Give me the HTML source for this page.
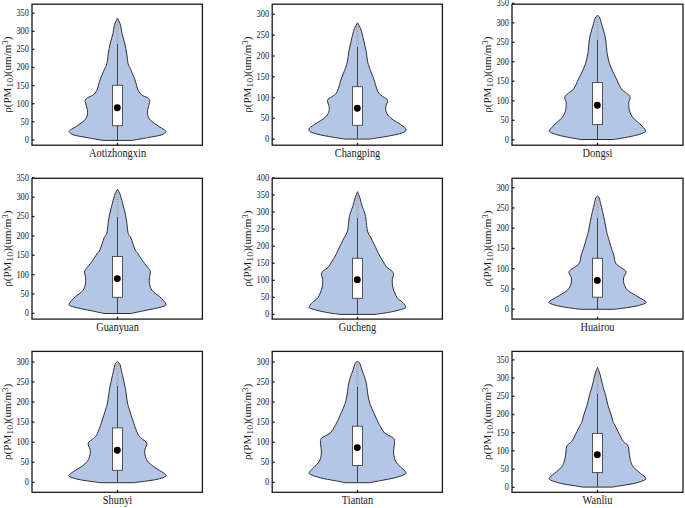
<!DOCTYPE html><html><head><meta charset="utf-8"><style>html,body{margin:0;padding:0;background:#fff;}body{width:685px;height:508px;overflow:hidden;font-family:"Liberation Serif",serif;}svg{display:block;}</style></head><body><svg width="685" height="508" viewBox="0 0 685 508" font-family="Liberation Serif, serif" fill="#1a1a1a"><g><path d="M132.3,140.4C134.82,139.95 142.58,138.6 147.4,137.7C152.22,136.8 158.2,135.92 161.2,135C164.2,134.08 164.82,133.02 165.4,132.2C165.98,131.38 166.08,131.25 164.7,130.1C163.32,128.95 159.63,127.13 157.1,125.3C154.57,123.47 151.12,121.28 149.5,119.1C147.88,116.92 147.52,114.5 147.4,112.2C147.28,109.9 148.4,107.25 148.8,105.3C149.2,103.35 150.03,101.77 149.8,100.5C149.57,99.23 148.72,98.62 147.4,97.7C146.08,96.78 143.45,96.25 141.9,95C140.35,93.75 139.25,92.7 138.1,90.2C136.95,87.7 136.25,83.48 135,80C133.75,76.52 131.75,72.02 130.6,69.3C129.45,66.58 128.73,66.23 128.1,63.7C127.47,61.17 127.37,57.53 126.8,54.1C126.23,50.67 125.51,46.55 124.7,43.1C123.89,39.65 122.63,36.38 121.95,33.4C121.27,30.42 121.34,27.77 120.6,25.2C119.86,22.63 118.02,19.2 117.5,18C116.98,19.2 115.14,22.63 114.4,25.2C113.66,27.77 113.73,30.42 113.05,33.4C112.37,36.38 111.11,39.65 110.3,43.1C109.49,46.55 108.77,50.67 108.2,54.1C107.63,57.53 107.53,61.17 106.9,63.7C106.27,66.23 105.55,66.58 104.4,69.3C103.25,72.02 101.25,76.52 100,80C98.75,83.48 98.05,87.7 96.9,90.2C95.75,92.7 94.65,93.75 93.1,95C91.55,96.25 88.92,96.78 87.6,97.7C86.28,98.62 85.43,99.23 85.2,100.5C84.97,101.77 85.8,103.35 86.2,105.3C86.6,107.25 87.72,109.9 87.6,112.2C87.48,114.5 87.12,116.92 85.5,119.1C83.88,121.28 80.43,123.47 77.9,125.3C75.37,127.13 71.68,128.95 70.3,130.1C68.92,131.25 69.02,131.38 69.6,132.2C70.18,133.02 70.8,134.08 73.8,135C76.8,135.92 82.78,136.8 87.6,137.7C92.42,138.6 100.18,139.95 102.7,140.4Z" fill="#b4c6e7" stroke="#2e2e2e" stroke-width="1.0" stroke-linejoin="round"/><line x1="117.5" y1="140.4" x2="117.5" y2="44" stroke="#333333" stroke-width="0.9"/><line x1="117.5" y1="44" x2="117.5" y2="20" stroke="#909090" stroke-width="1.5"/><line x1="117.5" y1="44" x2="117.5" y2="20" stroke="#f4f4f4" stroke-width="0.7" stroke-dasharray="1.3 0.9"/><rect x="112.5" y="85.3" width="10" height="40.4" fill="#fff" stroke="#444444" stroke-width="0.9"/><circle cx="117.3" cy="107.7" r="3.45" fill="#000"/><rect x="32" y="4.2" width="170.4" height="141" fill="none" stroke="#1a1a1a" stroke-width="1.3"/><line x1="32" y1="139.9" x2="34.4" y2="139.9" stroke="#1a1a1a" stroke-width="1.3"/><text transform="translate(29,142.8) scale(1,1.12)" text-anchor="end" font-size="8.4">0</text><line x1="32" y1="121.8" x2="34.4" y2="121.8" stroke="#1a1a1a" stroke-width="1.3"/><text transform="translate(29,124.7) scale(1,1.12)" text-anchor="end" font-size="8.4">50</text><line x1="32" y1="103.7" x2="34.4" y2="103.7" stroke="#1a1a1a" stroke-width="1.3"/><text transform="translate(29,106.6) scale(1,1.12)" text-anchor="end" font-size="8.4">100</text><line x1="32" y1="85.6" x2="34.4" y2="85.6" stroke="#1a1a1a" stroke-width="1.3"/><text transform="translate(29,88.5) scale(1,1.12)" text-anchor="end" font-size="8.4">150</text><line x1="32" y1="67.5" x2="34.4" y2="67.5" stroke="#1a1a1a" stroke-width="1.3"/><text transform="translate(29,70.4) scale(1,1.12)" text-anchor="end" font-size="8.4">200</text><line x1="32" y1="49.4" x2="34.4" y2="49.4" stroke="#1a1a1a" stroke-width="1.3"/><text transform="translate(29,52.3) scale(1,1.12)" text-anchor="end" font-size="8.4">250</text><line x1="32" y1="31.3" x2="34.4" y2="31.3" stroke="#1a1a1a" stroke-width="1.3"/><text transform="translate(29,34.2) scale(1,1.12)" text-anchor="end" font-size="8.4">300</text><line x1="32" y1="13.2" x2="34.4" y2="13.2" stroke="#1a1a1a" stroke-width="1.3"/><text transform="translate(29,16.1) scale(1,1.12)" text-anchor="end" font-size="8.4">350</text><line x1="117.5" y1="145.2" x2="117.5" y2="142.8" stroke="#1a1a1a" stroke-width="1.3"/><text transform="translate(117.5,156.9) scale(1,1.12)" text-anchor="middle" font-size="10.4">Aotizhongxin</text><text transform="translate(10.7,74.7) rotate(-90) scale(1.16,1)" text-anchor="middle" font-size="9.5">&#961;(PM<tspan font-size="8.6" dy="2.3">10</tspan><tspan dy="-2.3">)(um/m</tspan><tspan font-size="7.6" dy="-2.9">3</tspan><tspan dy="2.9">)</tspan></text></g><g><path d="M369.5,139.1C371.8,138.75 378.7,137.8 383.3,137C387.9,136.2 393.47,135.22 397.1,134.3C400.73,133.38 403.72,132.53 405.1,131.5C406.48,130.47 406.5,129.48 405.4,128.1C404.3,126.72 401.03,124.93 398.5,123.2C395.97,121.47 392.23,119.53 390.2,117.7C388.17,115.87 387.03,114.03 386.3,112.2C385.57,110.37 385.62,108.42 385.8,106.7C385.98,104.98 387.23,103.17 387.4,101.9C387.57,100.63 387.72,100.1 386.8,99.1C385.88,98.1 383.4,97.17 381.9,95.9C380.4,94.63 379.17,94.33 377.8,91.5C376.43,88.67 375.08,82.83 373.7,78.9C372.32,74.97 370.53,70.88 369.5,67.9C368.47,64.92 368.07,63.77 367.5,61C366.93,58.23 366.68,54.52 366.1,51.3C365.52,48.08 364.65,44.57 364,41.7C363.35,38.83 362.77,36.28 362.2,34.1C361.63,31.92 361.38,30.48 360.6,28.6C359.82,26.72 358.02,23.77 357.5,22.8C356.98,23.77 355.18,26.72 354.4,28.6C353.62,30.48 353.37,31.92 352.8,34.1C352.23,36.28 351.65,38.83 351,41.7C350.35,44.57 349.48,48.08 348.9,51.3C348.32,54.52 348.07,58.23 347.5,61C346.93,63.77 346.53,64.92 345.5,67.9C344.47,70.88 342.68,74.97 341.3,78.9C339.92,82.83 338.57,88.67 337.2,91.5C335.83,94.33 334.6,94.63 333.1,95.9C331.6,97.17 329.12,98.1 328.2,99.1C327.28,100.1 327.43,100.63 327.6,101.9C327.77,103.17 329.02,104.98 329.2,106.7C329.38,108.42 329.43,110.37 328.7,112.2C327.97,114.03 326.83,115.87 324.8,117.7C322.77,119.53 319.03,121.47 316.5,123.2C313.97,124.93 310.7,126.72 309.6,128.1C308.5,129.48 308.52,130.47 309.9,131.5C311.28,132.53 314.27,133.38 317.9,134.3C321.53,135.22 327.1,136.2 331.7,137C336.3,137.8 343.2,138.75 345.5,139.1Z" fill="#b4c6e7" stroke="#2e2e2e" stroke-width="1.0" stroke-linejoin="round"/><line x1="357.5" y1="139.1" x2="357.5" y2="46.5" stroke="#333333" stroke-width="0.9"/><line x1="357.5" y1="46.5" x2="357.5" y2="24.8" stroke="#909090" stroke-width="1.5"/><line x1="357.5" y1="46.5" x2="357.5" y2="24.8" stroke="#f4f4f4" stroke-width="0.7" stroke-dasharray="1.3 0.9"/><rect x="352.5" y="86.7" width="10" height="38.6" fill="#fff" stroke="#444444" stroke-width="0.9"/><circle cx="357.3" cy="108.3" r="3.45" fill="#000"/><rect x="272.2" y="4.2" width="170.2" height="141" fill="none" stroke="#1a1a1a" stroke-width="1.3"/><line x1="272.2" y1="139.2" x2="274.6" y2="139.2" stroke="#1a1a1a" stroke-width="1.3"/><text transform="translate(269.2,142.1) scale(1,1.12)" text-anchor="end" font-size="8.4">0</text><line x1="272.2" y1="118.4" x2="274.6" y2="118.4" stroke="#1a1a1a" stroke-width="1.3"/><text transform="translate(269.2,121.3) scale(1,1.12)" text-anchor="end" font-size="8.4">50</text><line x1="272.2" y1="97.6" x2="274.6" y2="97.6" stroke="#1a1a1a" stroke-width="1.3"/><text transform="translate(269.2,100.5) scale(1,1.12)" text-anchor="end" font-size="8.4">100</text><line x1="272.2" y1="76.8" x2="274.6" y2="76.8" stroke="#1a1a1a" stroke-width="1.3"/><text transform="translate(269.2,79.7) scale(1,1.12)" text-anchor="end" font-size="8.4">150</text><line x1="272.2" y1="56" x2="274.6" y2="56" stroke="#1a1a1a" stroke-width="1.3"/><text transform="translate(269.2,58.9) scale(1,1.12)" text-anchor="end" font-size="8.4">200</text><line x1="272.2" y1="35.2" x2="274.6" y2="35.2" stroke="#1a1a1a" stroke-width="1.3"/><text transform="translate(269.2,38.1) scale(1,1.12)" text-anchor="end" font-size="8.4">250</text><line x1="272.2" y1="14.4" x2="274.6" y2="14.4" stroke="#1a1a1a" stroke-width="1.3"/><text transform="translate(269.2,17.3) scale(1,1.12)" text-anchor="end" font-size="8.4">300</text><line x1="357.5" y1="145.2" x2="357.5" y2="142.8" stroke="#1a1a1a" stroke-width="1.3"/><text transform="translate(357.5,156.9) scale(1,1.12)" text-anchor="middle" font-size="10.4">Changping</text><text transform="translate(250.7,74.7) rotate(-90) scale(1.16,1)" text-anchor="middle" font-size="9.5">&#961;(PM<tspan font-size="8.6" dy="2.3">10</tspan><tspan dy="-2.3">)(um/m</tspan><tspan font-size="7.6" dy="-2.9">3</tspan><tspan dy="2.9">)</tspan></text></g><g><path d="M613.7,139.5C615.53,139.2 620.8,138.45 624.7,137.7C628.6,136.95 633.77,135.92 637.1,135C640.43,134.08 643.32,133.02 644.7,132.2C646.08,131.38 646.22,131.48 645.4,130.1C644.58,128.72 641.87,125.97 639.8,123.9C637.73,121.83 634.72,119.88 633,117.7C631.28,115.52 630.2,113.32 629.5,110.8C628.8,108.28 628.68,104.67 628.8,102.6C628.92,100.53 630.08,99.55 630.2,98.4C630.32,97.25 630.3,96.73 629.5,95.7C628.7,94.67 626.78,93.35 625.4,92.2C624.02,91.05 622.7,91.02 621.2,88.8C619.7,86.58 617.77,81.7 616.4,78.9C615.03,76.1 614.15,74.53 613,72C611.85,69.47 610.5,66.92 609.5,63.7C608.5,60.48 607.57,56.13 607,52.7C606.43,49.27 606.48,46.08 606.1,43.1C605.72,40.12 605.4,37.78 604.7,34.8C604,31.82 602.7,27.95 601.9,25.2C601.1,22.45 600.63,19.92 599.9,18.3C599.17,16.68 598.3,15.5 597.5,15.5C596.7,15.5 595.83,16.68 595.1,18.3C594.37,19.92 593.9,22.45 593.1,25.2C592.3,27.95 591,31.82 590.3,34.8C589.6,37.78 589.28,40.12 588.9,43.1C588.52,46.08 588.57,49.27 588,52.7C587.43,56.13 586.5,60.48 585.5,63.7C584.5,66.92 583.15,69.47 582,72C580.85,74.53 579.97,76.1 578.6,78.9C577.23,81.7 575.3,86.58 573.8,88.8C572.3,91.02 570.98,91.05 569.6,92.2C568.22,93.35 566.3,94.67 565.5,95.7C564.7,96.73 564.68,97.25 564.8,98.4C564.92,99.55 566.08,100.53 566.2,102.6C566.32,104.67 566.2,108.28 565.5,110.8C564.8,113.32 563.72,115.52 562,117.7C560.28,119.88 557.27,121.83 555.2,123.9C553.13,125.97 550.42,128.72 549.6,130.1C548.78,131.48 548.92,131.38 550.3,132.2C551.68,133.02 554.57,134.08 557.9,135C561.23,135.92 566.4,136.95 570.3,137.7C574.2,138.45 579.47,139.2 581.3,139.5Z" fill="#b4c6e7" stroke="#2e2e2e" stroke-width="1.0" stroke-linejoin="round"/><line x1="597.5" y1="139.5" x2="597.5" y2="39.6" stroke="#333333" stroke-width="0.9"/><line x1="597.5" y1="39.6" x2="597.5" y2="17.5" stroke="#909090" stroke-width="1.5"/><line x1="597.5" y1="39.6" x2="597.5" y2="17.5" stroke="#f4f4f4" stroke-width="0.7" stroke-dasharray="1.3 0.9"/><rect x="592.5" y="82.6" width="10" height="42" fill="#fff" stroke="#444444" stroke-width="0.9"/><circle cx="597.3" cy="105.3" r="3.45" fill="#000"/><rect x="512" y="4.2" width="171" height="141" fill="none" stroke="#1a1a1a" stroke-width="1.3"/><line x1="512" y1="139.8" x2="514.4" y2="139.8" stroke="#1a1a1a" stroke-width="1.3"/><text transform="translate(509,142.7) scale(1,1.12)" text-anchor="end" font-size="8.4">0</text><line x1="512" y1="120.3" x2="514.4" y2="120.3" stroke="#1a1a1a" stroke-width="1.3"/><text transform="translate(509,123.2) scale(1,1.12)" text-anchor="end" font-size="8.4">50</text><line x1="512" y1="100.8" x2="514.4" y2="100.8" stroke="#1a1a1a" stroke-width="1.3"/><text transform="translate(509,103.7) scale(1,1.12)" text-anchor="end" font-size="8.4">100</text><line x1="512" y1="81.3" x2="514.4" y2="81.3" stroke="#1a1a1a" stroke-width="1.3"/><text transform="translate(509,84.2) scale(1,1.12)" text-anchor="end" font-size="8.4">150</text><line x1="512" y1="61.8" x2="514.4" y2="61.8" stroke="#1a1a1a" stroke-width="1.3"/><text transform="translate(509,64.7) scale(1,1.12)" text-anchor="end" font-size="8.4">200</text><line x1="512" y1="42.3" x2="514.4" y2="42.3" stroke="#1a1a1a" stroke-width="1.3"/><text transform="translate(509,45.2) scale(1,1.12)" text-anchor="end" font-size="8.4">250</text><line x1="512" y1="22.8" x2="514.4" y2="22.8" stroke="#1a1a1a" stroke-width="1.3"/><text transform="translate(509,25.7) scale(1,1.12)" text-anchor="end" font-size="8.4">300</text><line x1="512" y1="3.3" x2="514.4" y2="3.3" stroke="#1a1a1a" stroke-width="1.3"/><text transform="translate(509,6.2) scale(1,1.12)" text-anchor="end" font-size="8.4">350</text><line x1="597.5" y1="145.2" x2="597.5" y2="142.8" stroke="#1a1a1a" stroke-width="1.3"/><text transform="translate(597.5,156.9) scale(1,1.12)" text-anchor="middle" font-size="10.4">Dongsi</text><text transform="translate(490.7,74.7) rotate(-90) scale(1.16,1)" text-anchor="middle" font-size="9.5">&#961;(PM<tspan font-size="8.6" dy="2.3">10</tspan><tspan dy="-2.3">)(um/m</tspan><tspan font-size="7.6" dy="-2.9">3</tspan><tspan dy="2.9">)</tspan></text></g><g><path d="M130.9,313.5C132.52,313.15 136.7,312.22 140.6,311.4C144.5,310.58 150.28,309.52 154.3,308.6C158.32,307.68 162.85,306.82 164.7,305.9C166.55,304.98 166.22,304.6 165.4,303.1C164.58,301.6 161.98,298.97 159.8,296.9C157.62,294.83 154.02,292.88 152.3,290.7C150.58,288.52 149.97,285.98 149.5,283.8C149.03,281.62 149.33,279.55 149.5,277.6C149.67,275.65 150.62,273.58 150.5,272.1C150.38,270.62 150,270.42 148.8,268.7C147.6,266.98 145.13,264.33 143.3,261.8C141.47,259.27 139.18,255.53 137.8,253.5C136.42,251.47 136.15,252.2 135,249.6C133.85,247 132.05,240.65 130.9,237.9C129.75,235.15 128.78,235.63 128.1,233.1C127.42,230.57 127.25,225.82 126.8,222.7C126.35,219.58 126.1,217.62 125.4,214.4C124.7,211.18 123.52,206.83 122.6,203.4C121.68,199.97 120.75,196.13 119.9,193.8C119.05,191.47 117.9,190.13 117.5,189.4C117.1,190.13 115.95,191.47 115.1,193.8C114.25,196.13 113.32,199.97 112.4,203.4C111.48,206.83 110.3,211.18 109.6,214.4C108.9,217.62 108.65,219.58 108.2,222.7C107.75,225.82 107.58,230.57 106.9,233.1C106.22,235.63 105.25,235.15 104.1,237.9C102.95,240.65 101.15,247 100,249.6C98.85,252.2 98.58,251.47 97.2,253.5C95.82,255.53 93.53,259.27 91.7,261.8C89.87,264.33 87.4,266.98 86.2,268.7C85,270.42 84.62,270.62 84.5,272.1C84.38,273.58 85.33,275.65 85.5,277.6C85.67,279.55 85.97,281.62 85.5,283.8C85.03,285.98 84.42,288.52 82.7,290.7C80.98,292.88 77.38,294.83 75.2,296.9C73.02,298.97 70.42,301.6 69.6,303.1C68.78,304.6 68.45,304.98 70.3,305.9C72.15,306.82 76.68,307.68 80.7,308.6C84.72,309.52 90.5,310.58 94.4,311.4C98.3,312.22 102.48,313.15 104.1,313.5Z" fill="#b4c6e7" stroke="#2e2e2e" stroke-width="1.0" stroke-linejoin="round"/><line x1="117.5" y1="313.5" x2="117.5" y2="216.5" stroke="#333333" stroke-width="0.9"/><line x1="117.5" y1="216.5" x2="117.5" y2="191.4" stroke="#909090" stroke-width="1.5"/><line x1="117.5" y1="216.5" x2="117.5" y2="191.4" stroke="#f4f4f4" stroke-width="0.7" stroke-dasharray="1.3 0.9"/><rect x="112.5" y="256.5" width="10" height="40.8" fill="#fff" stroke="#444444" stroke-width="0.9"/><circle cx="117.3" cy="278.6" r="3.45" fill="#000"/><rect x="32" y="178.3" width="170.4" height="140.8" fill="none" stroke="#1a1a1a" stroke-width="1.3"/><line x1="32" y1="313.4" x2="34.4" y2="313.4" stroke="#1a1a1a" stroke-width="1.3"/><text transform="translate(29,316.3) scale(1,1.12)" text-anchor="end" font-size="8.4">0</text><line x1="32" y1="294.03" x2="34.4" y2="294.03" stroke="#1a1a1a" stroke-width="1.3"/><text transform="translate(29,296.93) scale(1,1.12)" text-anchor="end" font-size="8.4">50</text><line x1="32" y1="274.66" x2="34.4" y2="274.66" stroke="#1a1a1a" stroke-width="1.3"/><text transform="translate(29,277.56) scale(1,1.12)" text-anchor="end" font-size="8.4">100</text><line x1="32" y1="255.29" x2="34.4" y2="255.29" stroke="#1a1a1a" stroke-width="1.3"/><text transform="translate(29,258.19) scale(1,1.12)" text-anchor="end" font-size="8.4">150</text><line x1="32" y1="235.92" x2="34.4" y2="235.92" stroke="#1a1a1a" stroke-width="1.3"/><text transform="translate(29,238.82) scale(1,1.12)" text-anchor="end" font-size="8.4">200</text><line x1="32" y1="216.55" x2="34.4" y2="216.55" stroke="#1a1a1a" stroke-width="1.3"/><text transform="translate(29,219.45) scale(1,1.12)" text-anchor="end" font-size="8.4">250</text><line x1="32" y1="197.18" x2="34.4" y2="197.18" stroke="#1a1a1a" stroke-width="1.3"/><text transform="translate(29,200.08) scale(1,1.12)" text-anchor="end" font-size="8.4">300</text><line x1="32" y1="177.81" x2="34.4" y2="177.81" stroke="#1a1a1a" stroke-width="1.3"/><text transform="translate(29,180.71) scale(1,1.12)" text-anchor="end" font-size="8.4">350</text><line x1="117.5" y1="319.1" x2="117.5" y2="316.7" stroke="#1a1a1a" stroke-width="1.3"/><text transform="translate(117.5,330.8) scale(1,1.12)" text-anchor="middle" font-size="10.4">Guanyuan</text><text transform="translate(10.7,248.7) rotate(-90) scale(1.16,1)" text-anchor="middle" font-size="9.5">&#961;(PM<tspan font-size="8.6" dy="2.3">10</tspan><tspan dy="-2.3">)(um/m</tspan><tspan font-size="7.6" dy="-2.9">3</tspan><tspan dy="2.9">)</tspan></text></g><g><path d="M375,314.4C377.53,314.02 385.37,313.07 390.2,312.1C395.03,311.13 401.43,309.52 404,308.6C406.57,307.68 405.83,307.63 405.6,306.6C405.37,305.57 404.02,303.9 402.6,302.4C401.18,300.9 398.7,300 397.1,297.6C395.5,295.2 393.8,290.98 393,288C392.2,285.02 392.2,282 392.3,279.7C392.4,277.4 393.72,275.7 393.6,274.2C393.48,272.7 392.73,271.85 391.6,270.7C390.47,269.55 388.18,268.78 386.8,267.3C385.42,265.82 384.57,263.87 383.3,261.8C382.03,259.73 380.35,257.05 379.2,254.9C378.05,252.75 377.78,251.73 376.4,248.9C375.02,246.07 372.38,240.88 370.9,237.9C369.42,234.92 368.3,233.98 367.5,231C366.7,228.02 366.57,222.98 366.1,220C365.63,217.02 365.4,215.52 364.7,213.1C364,210.68 362.7,208.03 361.9,205.5C361.1,202.97 360.63,200.2 359.9,197.9C359.17,195.6 357.9,192.73 357.5,191.7C357.1,192.73 355.83,195.6 355.1,197.9C354.37,200.2 353.9,202.97 353.1,205.5C352.3,208.03 351,210.68 350.3,213.1C349.6,215.52 349.37,217.02 348.9,220C348.43,222.98 348.3,228.02 347.5,231C346.7,233.98 345.58,234.92 344.1,237.9C342.62,240.88 339.98,246.07 338.6,248.9C337.22,251.73 336.95,252.75 335.8,254.9C334.65,257.05 332.97,259.73 331.7,261.8C330.43,263.87 329.58,265.82 328.2,267.3C326.82,268.78 324.53,269.55 323.4,270.7C322.27,271.85 321.52,272.7 321.4,274.2C321.28,275.7 322.6,277.4 322.7,279.7C322.8,282 322.8,285.02 322,288C321.2,290.98 319.5,295.2 317.9,297.6C316.3,300 313.82,300.9 312.4,302.4C310.98,303.9 309.63,305.57 309.4,306.6C309.17,307.63 308.43,307.68 311,308.6C313.57,309.52 319.97,311.13 324.8,312.1C329.63,313.07 337.47,314.02 340,314.4Z" fill="#b4c6e7" stroke="#2e2e2e" stroke-width="1.0" stroke-linejoin="round"/><line x1="357.5" y1="314.4" x2="357.5" y2="217.9" stroke="#333333" stroke-width="0.9"/><line x1="357.5" y1="217.9" x2="357.5" y2="193.7" stroke="#909090" stroke-width="1.5"/><line x1="357.5" y1="217.9" x2="357.5" y2="193.7" stroke="#f4f4f4" stroke-width="0.7" stroke-dasharray="1.3 0.9"/><rect x="352.5" y="258.3" width="10" height="40" fill="#fff" stroke="#444444" stroke-width="0.9"/><circle cx="357.3" cy="279.7" r="3.45" fill="#000"/><rect x="272.2" y="178.3" width="170.2" height="140.8" fill="none" stroke="#1a1a1a" stroke-width="1.3"/><line x1="272.2" y1="314.5" x2="274.6" y2="314.5" stroke="#1a1a1a" stroke-width="1.3"/><text transform="translate(269.2,317.4) scale(1,1.12)" text-anchor="end" font-size="8.4">0</text><line x1="272.2" y1="297.43" x2="274.6" y2="297.43" stroke="#1a1a1a" stroke-width="1.3"/><text transform="translate(269.2,300.33) scale(1,1.12)" text-anchor="end" font-size="8.4">50</text><line x1="272.2" y1="280.36" x2="274.6" y2="280.36" stroke="#1a1a1a" stroke-width="1.3"/><text transform="translate(269.2,283.26) scale(1,1.12)" text-anchor="end" font-size="8.4">100</text><line x1="272.2" y1="263.29" x2="274.6" y2="263.29" stroke="#1a1a1a" stroke-width="1.3"/><text transform="translate(269.2,266.19) scale(1,1.12)" text-anchor="end" font-size="8.4">150</text><line x1="272.2" y1="246.22" x2="274.6" y2="246.22" stroke="#1a1a1a" stroke-width="1.3"/><text transform="translate(269.2,249.12) scale(1,1.12)" text-anchor="end" font-size="8.4">200</text><line x1="272.2" y1="229.15" x2="274.6" y2="229.15" stroke="#1a1a1a" stroke-width="1.3"/><text transform="translate(269.2,232.05) scale(1,1.12)" text-anchor="end" font-size="8.4">250</text><line x1="272.2" y1="212.08" x2="274.6" y2="212.08" stroke="#1a1a1a" stroke-width="1.3"/><text transform="translate(269.2,214.98) scale(1,1.12)" text-anchor="end" font-size="8.4">300</text><line x1="272.2" y1="195.01" x2="274.6" y2="195.01" stroke="#1a1a1a" stroke-width="1.3"/><text transform="translate(269.2,197.91) scale(1,1.12)" text-anchor="end" font-size="8.4">350</text><line x1="272.2" y1="177.94" x2="274.6" y2="177.94" stroke="#1a1a1a" stroke-width="1.3"/><text transform="translate(269.2,180.84) scale(1,1.12)" text-anchor="end" font-size="8.4">400</text><line x1="357.5" y1="319.1" x2="357.5" y2="316.7" stroke="#1a1a1a" stroke-width="1.3"/><text transform="translate(357.5,330.8) scale(1,1.12)" text-anchor="middle" font-size="10.4">Gucheng</text><text transform="translate(250.7,248.7) rotate(-90) scale(1.16,1)" text-anchor="middle" font-size="9.5">&#961;(PM<tspan font-size="8.6" dy="2.3">10</tspan><tspan dy="-2.3">)(um/m</tspan><tspan font-size="7.6" dy="-2.9">3</tspan><tspan dy="2.9">)</tspan></text></g><g><path d="M613.7,309.3C615.3,309.12 619.4,308.77 623.3,308.2C627.2,307.63 633.42,306.75 637.1,305.9C640.78,305.05 644.07,303.9 645.4,303.1C646.73,302.3 646.72,302.37 645.1,301.1C643.48,299.83 638.65,297.35 635.7,295.5C632.75,293.65 629.35,291.95 627.4,290C625.45,288.05 624.63,285.87 624,283.8C623.37,281.73 623.3,279.32 623.6,277.6C623.9,275.88 625.5,274.65 625.8,273.5C626.1,272.35 626.27,271.73 625.4,270.7C624.53,269.67 622.22,268.55 620.6,267.3C618.98,266.05 616.85,265.27 615.7,263.2C614.55,261.13 614.38,257.28 613.7,254.9C613.02,252.52 612.42,251.5 611.6,248.9C610.78,246.3 609.6,242.05 608.8,239.3C608,236.55 607.48,235.4 606.8,232.4C606.12,229.4 605.4,224.75 604.7,221.3C604,217.85 603.28,214.68 602.6,211.7C601.92,208.72 601.17,205.7 600.6,203.4C600.03,201.1 599.72,199.08 599.2,197.9C598.68,196.72 598.07,196.3 597.5,196.3C596.93,196.3 596.32,196.72 595.8,197.9C595.28,199.08 594.97,201.1 594.4,203.4C593.83,205.7 593.08,208.72 592.4,211.7C591.72,214.68 591,217.85 590.3,221.3C589.6,224.75 588.88,229.4 588.2,232.4C587.52,235.4 587,236.55 586.2,239.3C585.4,242.05 584.22,246.3 583.4,248.9C582.58,251.5 581.98,252.52 581.3,254.9C580.62,257.28 580.45,261.13 579.3,263.2C578.15,265.27 576.02,266.05 574.4,267.3C572.78,268.55 570.47,269.67 569.6,270.7C568.73,271.73 568.9,272.35 569.2,273.5C569.5,274.65 571.1,275.88 571.4,277.6C571.7,279.32 571.63,281.73 571,283.8C570.37,285.87 569.55,288.05 567.6,290C565.65,291.95 562.25,293.65 559.3,295.5C556.35,297.35 551.52,299.83 549.9,301.1C548.28,302.37 548.27,302.3 549.6,303.1C550.93,303.9 554.22,305.05 557.9,305.9C561.58,306.75 567.8,307.63 571.7,308.2C575.6,308.77 579.7,309.12 581.3,309.3Z" fill="#b4c6e7" stroke="#2e2e2e" stroke-width="1.0" stroke-linejoin="round"/><line x1="597.5" y1="309.3" x2="597.5" y2="217.9" stroke="#333333" stroke-width="0.9"/><line x1="597.5" y1="217.9" x2="597.5" y2="198.3" stroke="#909090" stroke-width="1.5"/><line x1="597.5" y1="217.9" x2="597.5" y2="198.3" stroke="#f4f4f4" stroke-width="0.7" stroke-dasharray="1.3 0.9"/><rect x="592.5" y="258.3" width="10" height="38.9" fill="#fff" stroke="#444444" stroke-width="0.9"/><circle cx="597.3" cy="280.4" r="3.45" fill="#000"/><rect x="512" y="178.3" width="171" height="140.8" fill="none" stroke="#1a1a1a" stroke-width="1.3"/><line x1="512" y1="309.2" x2="514.4" y2="309.2" stroke="#1a1a1a" stroke-width="1.3"/><text transform="translate(509,312.1) scale(1,1.12)" text-anchor="end" font-size="8.4">0</text><line x1="512" y1="288.95" x2="514.4" y2="288.95" stroke="#1a1a1a" stroke-width="1.3"/><text transform="translate(509,291.85) scale(1,1.12)" text-anchor="end" font-size="8.4">50</text><line x1="512" y1="268.7" x2="514.4" y2="268.7" stroke="#1a1a1a" stroke-width="1.3"/><text transform="translate(509,271.6) scale(1,1.12)" text-anchor="end" font-size="8.4">100</text><line x1="512" y1="248.45" x2="514.4" y2="248.45" stroke="#1a1a1a" stroke-width="1.3"/><text transform="translate(509,251.35) scale(1,1.12)" text-anchor="end" font-size="8.4">150</text><line x1="512" y1="228.2" x2="514.4" y2="228.2" stroke="#1a1a1a" stroke-width="1.3"/><text transform="translate(509,231.1) scale(1,1.12)" text-anchor="end" font-size="8.4">200</text><line x1="512" y1="207.95" x2="514.4" y2="207.95" stroke="#1a1a1a" stroke-width="1.3"/><text transform="translate(509,210.85) scale(1,1.12)" text-anchor="end" font-size="8.4">250</text><line x1="512" y1="187.7" x2="514.4" y2="187.7" stroke="#1a1a1a" stroke-width="1.3"/><text transform="translate(509,190.6) scale(1,1.12)" text-anchor="end" font-size="8.4">300</text><line x1="597.5" y1="319.1" x2="597.5" y2="316.7" stroke="#1a1a1a" stroke-width="1.3"/><text transform="translate(597.5,330.8) scale(1,1.12)" text-anchor="middle" font-size="10.4">Huairou</text><text transform="translate(490.7,248.7) rotate(-90) scale(1.16,1)" text-anchor="middle" font-size="9.5">&#961;(PM<tspan font-size="8.6" dy="2.3">10</tspan><tspan dy="-2.3">)(um/m</tspan><tspan font-size="7.6" dy="-2.9">3</tspan><tspan dy="2.9">)</tspan></text></g><g><path d="M133.7,482.7C135.53,482.47 140.8,481.87 144.7,481.3C148.6,480.73 153.65,480.1 157.1,479.3C160.55,478.5 164.13,477.43 165.4,476.5C166.67,475.57 166.08,474.97 164.7,473.7C163.32,472.43 159.75,470.73 157.1,468.9C154.45,467.07 150.75,464.77 148.8,462.7C146.85,460.63 146.08,458.57 145.4,456.5C144.72,454.43 144.47,452.25 144.7,450.3C144.93,448.35 146.57,446.18 146.8,444.8C147.03,443.42 146.8,442.92 146.1,442C145.4,441.08 143.87,440.43 142.6,439.3C141.33,438.17 139.77,437.27 138.5,435.2C137.23,433.13 135.92,429.28 135,426.9C134.08,424.52 133.92,423.73 133,420.9C132.08,418.07 130.42,412.88 129.5,409.9C128.58,406.92 128.07,405.77 127.5,403C126.93,400.23 126.57,396.28 126.1,393.3C125.63,390.32 125.4,388.53 124.7,385.1C124,381.67 122.7,376.15 121.9,372.7C121.1,369.25 120.63,366.28 119.9,364.4C119.17,362.52 117.9,361.9 117.5,361.4C117.1,361.9 115.83,362.52 115.1,364.4C114.37,366.28 113.9,369.25 113.1,372.7C112.3,376.15 111,381.67 110.3,385.1C109.6,388.53 109.37,390.32 108.9,393.3C108.43,396.28 108.07,400.23 107.5,403C106.93,405.77 106.42,406.92 105.5,409.9C104.58,412.88 102.92,418.07 102,420.9C101.08,423.73 100.92,424.52 100,426.9C99.08,429.28 97.77,433.13 96.5,435.2C95.23,437.27 93.67,438.17 92.4,439.3C91.13,440.43 89.6,441.08 88.9,442C88.2,442.92 87.97,443.42 88.2,444.8C88.43,446.18 90.07,448.35 90.3,450.3C90.53,452.25 90.28,454.43 89.6,456.5C88.92,458.57 88.15,460.63 86.2,462.7C84.25,464.77 80.55,467.07 77.9,468.9C75.25,470.73 71.68,472.43 70.3,473.7C68.92,474.97 68.33,475.57 69.6,476.5C70.87,477.43 74.45,478.5 77.9,479.3C81.35,480.1 86.4,480.73 90.3,481.3C94.2,481.87 99.47,482.47 101.3,482.7Z" fill="#b4c6e7" stroke="#2e2e2e" stroke-width="1.0" stroke-linejoin="round"/><line x1="117.5" y1="482.7" x2="117.5" y2="385.8" stroke="#333333" stroke-width="0.9"/><line x1="117.5" y1="385.8" x2="117.5" y2="363.4" stroke="#909090" stroke-width="1.5"/><line x1="117.5" y1="385.8" x2="117.5" y2="363.4" stroke="#f4f4f4" stroke-width="0.7" stroke-dasharray="1.3 0.9"/><rect x="112.5" y="427.9" width="10" height="42.4" fill="#fff" stroke="#444444" stroke-width="0.9"/><circle cx="117.3" cy="450.3" r="3.45" fill="#000"/><rect x="32" y="351.4" width="170.4" height="140.9" fill="none" stroke="#1a1a1a" stroke-width="1.3"/><line x1="32" y1="482.4" x2="34.4" y2="482.4" stroke="#1a1a1a" stroke-width="1.3"/><text transform="translate(29,485.3) scale(1,1.12)" text-anchor="end" font-size="8.4">0</text><line x1="32" y1="462.32" x2="34.4" y2="462.32" stroke="#1a1a1a" stroke-width="1.3"/><text transform="translate(29,465.22) scale(1,1.12)" text-anchor="end" font-size="8.4">50</text><line x1="32" y1="442.24" x2="34.4" y2="442.24" stroke="#1a1a1a" stroke-width="1.3"/><text transform="translate(29,445.14) scale(1,1.12)" text-anchor="end" font-size="8.4">100</text><line x1="32" y1="422.16" x2="34.4" y2="422.16" stroke="#1a1a1a" stroke-width="1.3"/><text transform="translate(29,425.06) scale(1,1.12)" text-anchor="end" font-size="8.4">150</text><line x1="32" y1="402.08" x2="34.4" y2="402.08" stroke="#1a1a1a" stroke-width="1.3"/><text transform="translate(29,404.98) scale(1,1.12)" text-anchor="end" font-size="8.4">200</text><line x1="32" y1="382" x2="34.4" y2="382" stroke="#1a1a1a" stroke-width="1.3"/><text transform="translate(29,384.9) scale(1,1.12)" text-anchor="end" font-size="8.4">250</text><line x1="32" y1="361.92" x2="34.4" y2="361.92" stroke="#1a1a1a" stroke-width="1.3"/><text transform="translate(29,364.82) scale(1,1.12)" text-anchor="end" font-size="8.4">300</text><line x1="117.5" y1="492.3" x2="117.5" y2="489.9" stroke="#1a1a1a" stroke-width="1.3"/><text transform="translate(117.5,504) scale(1,1.12)" text-anchor="middle" font-size="10.4">Shunyi</text><text transform="translate(10.7,421.85) rotate(-90) scale(1.16,1)" text-anchor="middle" font-size="9.5">&#961;(PM<tspan font-size="8.6" dy="2.3">10</tspan><tspan dy="-2.3">)(um/m</tspan><tspan font-size="7.6" dy="-2.9">3</tspan><tspan dy="2.9">)</tspan></text></g><g><path d="M369.5,482.7C371.35,482.35 376.47,481.4 380.6,480.6C384.73,479.8 390.28,478.93 394.3,477.9C398.32,476.87 402.85,475.43 404.7,474.4C406.55,473.37 405.98,472.85 405.4,471.7C404.82,470.55 402.82,469.23 401.2,467.5C399.58,465.77 396.97,463.7 395.7,461.3C394.43,458.9 393.83,455.85 393.6,453.1C393.37,450.35 394.18,447.1 394.3,444.8C394.42,442.5 394.87,440.68 394.3,439.3C393.73,437.92 392.5,437.53 390.9,436.5C389.3,435.47 386.42,434.7 384.7,433.1C382.98,431.5 381.75,428.82 380.6,426.9C379.45,424.98 378.95,423.98 377.8,421.6C376.65,419.22 374.97,415.47 373.7,412.6C372.43,409.73 371.13,407.15 370.2,404.4C369.27,401.65 368.67,399.1 368.1,396.1C367.53,393.1 367.25,389.15 366.8,386.4C366.35,383.65 366.22,382.35 365.4,379.6C364.58,376.85 362.82,372.55 361.9,369.9C360.98,367.25 360.63,365.12 359.9,363.7C359.17,362.28 358.3,361.4 357.5,361.4C356.7,361.4 355.83,362.28 355.1,363.7C354.37,365.12 354.02,367.25 353.1,369.9C352.18,372.55 350.42,376.85 349.6,379.6C348.78,382.35 348.65,383.65 348.2,386.4C347.75,389.15 347.47,393.1 346.9,396.1C346.33,399.1 345.73,401.65 344.8,404.4C343.87,407.15 342.57,409.73 341.3,412.6C340.03,415.47 338.35,419.22 337.2,421.6C336.05,423.98 335.55,424.98 334.4,426.9C333.25,428.82 332.02,431.5 330.3,433.1C328.58,434.7 325.7,435.47 324.1,436.5C322.5,437.53 321.27,437.92 320.7,439.3C320.13,440.68 320.58,442.5 320.7,444.8C320.82,447.1 321.63,450.35 321.4,453.1C321.17,455.85 320.57,458.9 319.3,461.3C318.03,463.7 315.42,465.77 313.8,467.5C312.18,469.23 310.18,470.55 309.6,471.7C309.02,472.85 308.45,473.37 310.3,474.4C312.15,475.43 316.68,476.87 320.7,477.9C324.72,478.93 330.27,479.8 334.4,480.6C338.53,481.4 343.65,482.35 345.5,482.7Z" fill="#b4c6e7" stroke="#2e2e2e" stroke-width="1.0" stroke-linejoin="round"/><line x1="357.5" y1="482.7" x2="357.5" y2="386.4" stroke="#333333" stroke-width="0.9"/><line x1="357.5" y1="386.4" x2="357.5" y2="363.4" stroke="#909090" stroke-width="1.5"/><line x1="357.5" y1="386.4" x2="357.5" y2="363.4" stroke="#f4f4f4" stroke-width="0.7" stroke-dasharray="1.3 0.9"/><rect x="352.5" y="426.2" width="10" height="39.3" fill="#fff" stroke="#444444" stroke-width="0.9"/><circle cx="357.3" cy="447.6" r="3.45" fill="#000"/><rect x="272.2" y="351.4" width="170.2" height="140.9" fill="none" stroke="#1a1a1a" stroke-width="1.3"/><line x1="272.2" y1="482.4" x2="274.6" y2="482.4" stroke="#1a1a1a" stroke-width="1.3"/><text transform="translate(269.2,485.3) scale(1,1.12)" text-anchor="end" font-size="8.4">0</text><line x1="272.2" y1="462.32" x2="274.6" y2="462.32" stroke="#1a1a1a" stroke-width="1.3"/><text transform="translate(269.2,465.22) scale(1,1.12)" text-anchor="end" font-size="8.4">50</text><line x1="272.2" y1="442.24" x2="274.6" y2="442.24" stroke="#1a1a1a" stroke-width="1.3"/><text transform="translate(269.2,445.14) scale(1,1.12)" text-anchor="end" font-size="8.4">100</text><line x1="272.2" y1="422.16" x2="274.6" y2="422.16" stroke="#1a1a1a" stroke-width="1.3"/><text transform="translate(269.2,425.06) scale(1,1.12)" text-anchor="end" font-size="8.4">150</text><line x1="272.2" y1="402.08" x2="274.6" y2="402.08" stroke="#1a1a1a" stroke-width="1.3"/><text transform="translate(269.2,404.98) scale(1,1.12)" text-anchor="end" font-size="8.4">200</text><line x1="272.2" y1="382" x2="274.6" y2="382" stroke="#1a1a1a" stroke-width="1.3"/><text transform="translate(269.2,384.9) scale(1,1.12)" text-anchor="end" font-size="8.4">250</text><line x1="272.2" y1="361.92" x2="274.6" y2="361.92" stroke="#1a1a1a" stroke-width="1.3"/><text transform="translate(269.2,364.82) scale(1,1.12)" text-anchor="end" font-size="8.4">300</text><line x1="357.5" y1="492.3" x2="357.5" y2="489.9" stroke="#1a1a1a" stroke-width="1.3"/><text transform="translate(357.5,504) scale(1,1.12)" text-anchor="middle" font-size="10.4">Tiantan</text><text transform="translate(250.7,421.85) rotate(-90) scale(1.16,1)" text-anchor="middle" font-size="9.5">&#961;(PM<tspan font-size="8.6" dy="2.3">10</tspan><tspan dy="-2.3">)(um/m</tspan><tspan font-size="7.6" dy="-2.9">3</tspan><tspan dy="2.9">)</tspan></text></g><g><path d="M612.3,487.1C613.9,486.83 618.23,486.12 621.9,485.5C625.57,484.88 630.5,484.33 634.3,483.4C638.1,482.47 642.9,480.93 644.7,479.9C646.5,478.87 646.13,478.57 645.1,477.2C644.07,475.83 640.63,473.65 638.5,471.7C636.37,469.75 633.8,468.15 632.3,465.5C630.8,462.85 630.08,458.57 629.5,455.8C628.92,453.03 629.15,450.73 628.8,448.9C628.45,447.07 628.32,446.05 627.4,444.8C626.48,443.55 624.67,443.23 623.3,441.4C621.93,439.57 620.58,436.45 619.2,433.8C617.82,431.15 616.03,427.53 615,425.5C613.97,423.47 613.68,423.52 613,421.6C612.32,419.68 611.72,416.65 610.9,414C610.08,411.35 609.02,408.92 608.1,405.7C607.18,402.48 606.2,397.68 605.4,394.7C604.6,391.72 603.88,389.87 603.3,387.8C602.72,385.73 602.47,384.6 601.9,382.3C601.33,380 600.63,376.48 599.9,374C599.17,371.52 597.9,368.5 597.5,367.4C597.1,368.5 595.83,371.52 595.1,374C594.37,376.48 593.67,380 593.1,382.3C592.53,384.6 592.28,385.73 591.7,387.8C591.12,389.87 590.4,391.72 589.6,394.7C588.8,397.68 587.82,402.48 586.9,405.7C585.98,408.92 584.92,411.35 584.1,414C583.28,416.65 582.68,419.68 582,421.6C581.32,423.52 581.03,423.47 580,425.5C578.97,427.53 577.18,431.15 575.8,433.8C574.42,436.45 573.07,439.57 571.7,441.4C570.33,443.23 568.52,443.55 567.6,444.8C566.68,446.05 566.55,447.07 566.2,448.9C565.85,450.73 566.08,453.03 565.5,455.8C564.92,458.57 564.2,462.85 562.7,465.5C561.2,468.15 558.63,469.75 556.5,471.7C554.37,473.65 550.93,475.83 549.9,477.2C548.87,478.57 548.5,478.87 550.3,479.9C552.1,480.93 556.9,482.47 560.7,483.4C564.5,484.33 569.43,484.88 573.1,485.5C576.77,486.12 581.1,486.83 582.7,487.1Z" fill="#b4c6e7" stroke="#2e2e2e" stroke-width="1.0" stroke-linejoin="round"/><line x1="597.5" y1="487.1" x2="597.5" y2="393.3" stroke="#333333" stroke-width="0.9"/><line x1="597.5" y1="393.3" x2="597.5" y2="369.4" stroke="#909090" stroke-width="1.5"/><line x1="597.5" y1="393.3" x2="597.5" y2="369.4" stroke="#f4f4f4" stroke-width="0.7" stroke-dasharray="1.3 0.9"/><rect x="592.5" y="433.4" width="10" height="39.2" fill="#fff" stroke="#444444" stroke-width="0.9"/><circle cx="597.3" cy="454.7" r="3.45" fill="#000"/><rect x="512" y="351.4" width="171" height="140.9" fill="none" stroke="#1a1a1a" stroke-width="1.3"/><line x1="512" y1="487.3" x2="514.4" y2="487.3" stroke="#1a1a1a" stroke-width="1.3"/><text transform="translate(509,490.2) scale(1,1.12)" text-anchor="end" font-size="8.4">0</text><line x1="512" y1="469.1" x2="514.4" y2="469.1" stroke="#1a1a1a" stroke-width="1.3"/><text transform="translate(509,472) scale(1,1.12)" text-anchor="end" font-size="8.4">50</text><line x1="512" y1="450.9" x2="514.4" y2="450.9" stroke="#1a1a1a" stroke-width="1.3"/><text transform="translate(509,453.8) scale(1,1.12)" text-anchor="end" font-size="8.4">100</text><line x1="512" y1="432.7" x2="514.4" y2="432.7" stroke="#1a1a1a" stroke-width="1.3"/><text transform="translate(509,435.6) scale(1,1.12)" text-anchor="end" font-size="8.4">150</text><line x1="512" y1="414.5" x2="514.4" y2="414.5" stroke="#1a1a1a" stroke-width="1.3"/><text transform="translate(509,417.4) scale(1,1.12)" text-anchor="end" font-size="8.4">200</text><line x1="512" y1="396.3" x2="514.4" y2="396.3" stroke="#1a1a1a" stroke-width="1.3"/><text transform="translate(509,399.2) scale(1,1.12)" text-anchor="end" font-size="8.4">250</text><line x1="512" y1="378.1" x2="514.4" y2="378.1" stroke="#1a1a1a" stroke-width="1.3"/><text transform="translate(509,381) scale(1,1.12)" text-anchor="end" font-size="8.4">300</text><line x1="512" y1="359.9" x2="514.4" y2="359.9" stroke="#1a1a1a" stroke-width="1.3"/><text transform="translate(509,362.8) scale(1,1.12)" text-anchor="end" font-size="8.4">350</text><line x1="597.5" y1="492.3" x2="597.5" y2="489.9" stroke="#1a1a1a" stroke-width="1.3"/><text transform="translate(597.5,504) scale(1,1.12)" text-anchor="middle" font-size="10.4">Wanliu</text><text transform="translate(490.7,421.85) rotate(-90) scale(1.16,1)" text-anchor="middle" font-size="9.5">&#961;(PM<tspan font-size="8.6" dy="2.3">10</tspan><tspan dy="-2.3">)(um/m</tspan><tspan font-size="7.6" dy="-2.9">3</tspan><tspan dy="2.9">)</tspan></text></g></svg></body></html>
